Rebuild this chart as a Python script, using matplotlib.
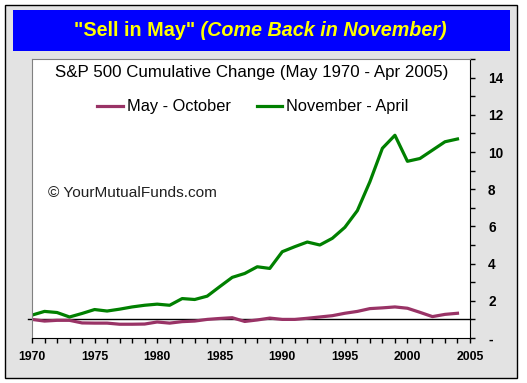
import matplotlib
matplotlib.use("Agg")
import matplotlib.pyplot as plt
from matplotlib.patches import Rectangle
from matplotlib.ticker import MultipleLocator, FuncFormatter

years = list(range(1970, 2005))
may_oct = [1.00, 0.91, 0.95, 0.95, 0.81, 0.80, 0.80, 0.74, 0.74, 0.75,
           0.86, 0.80, 0.88, 0.91, 1.00, 1.05, 1.09, 0.89, 0.97, 1.07,
           1.00, 1.00, 1.06, 1.13, 1.20, 1.33, 1.43, 1.58, 1.62, 1.67,
           1.60, 1.38, 1.15, 1.27, 1.33]
nov_apr = [1.23, 1.43, 1.37, 1.13, 1.32, 1.53, 1.45, 1.55, 1.67, 1.76,
           1.82, 1.76, 2.12, 2.07, 2.25, 2.76, 3.26, 3.47, 3.83, 3.74,
           4.64, 4.91, 5.16, 5.00, 5.36, 5.95, 6.85, 8.40, 10.20, 10.90,
           9.50, 9.65, 10.10, 10.55, 10.70]
series_names = ["May - October", "November - April"]
title_a = '"Sell in May"'
title_b = ' (Come Back in November)'
subtitle = "S&P 500 Cumulative Change (May 1970 - Apr 2005)"
watermark = "\u00a9 YourMutualFunds.com"

plt.rcParams['font.family'] = ['Liberation Sans', 'DejaVu Sans']

W, H = 527, 383
fig = plt.figure(figsize=(W / 100, H / 100), dpi=100)
fig.patch.set_facecolor('white')

def px(x, y, w, h):
    return (x / W, 1 - (y + h) / H, w / W, h / H)

bx = px(5, 5, 512, 373)
fig.patches.append(Rectangle((bx[0], bx[1]), bx[2], bx[3], transform=fig.transFigure,
                             facecolor='#E3E3E3', edgecolor='black', linewidth=1.0, zorder=-10))
bb = px(13, 10, 497, 41)
fig.patches.append(Rectangle((bb[0], bb[1]), bb[2], bb[3], transform=fig.transFigure,
                             facecolor='#0000FF', edgecolor='none', zorder=-9))

ta = fig.text(0, 0, title_a, fontsize=14.2, fontweight='bold', color='#FFFF00')
fig.canvas.draw()
r = fig.canvas.get_renderer()
tb = fig.text(0, 0, title_b, fontsize=14.2, fontweight='bold', fontstyle='italic', color='#FFFF00')
wa = ta.get_window_extent(r).width
wb = tb.get_window_extent(r).width
x0 = (260 - (wa + wb) / 2)
ya = 1 - 31 / H
ta.set_position((x0 / W, ya)); ta.set_va('center')
tb.set_position(((x0 + wa) / W, ya)); tb.set_va('center')

AXW, AXH = 470 - 32, 338 - 59
ax = fig.add_axes([32 / W, 1 - 338 / H, AXW / W, AXH / H])
ax.set_facecolor('white')
ax.plot(years, may_oct, color='#993366', linewidth=2.3, label=series_names[0])
ax.plot(years, nov_apr, color='#008000', linewidth=2.3, label=series_names[1])
ax.axhline(1, color='black', linewidth=1.0, xmin=-0.01, clip_on=False, zorder=1)

ax.set_xlim(1970, 2005)
ax.set_ylim(0, 15)
ax.yaxis.tick_right()
ax.yaxis.set_label_position('right')
ax.set_yticks([0, 2, 4, 6, 8, 10, 12, 14])
ax.yaxis.set_minor_locator(MultipleLocator(1))
ax.yaxis.set_major_formatter(FuncFormatter(lambda v, p: '-' if v == 0 else f'{int(v)}'))
ax.xaxis.set_major_locator(MultipleLocator(5))
ax.xaxis.set_minor_locator(MultipleLocator(1))
ax.tick_params(axis='both', which='both', direction='out', length=3.5, width=1, color='black')
ax.tick_params(axis='y', which='major', pad=9.5)
ax.tick_params(axis='x', which='major', pad=6)
for lab in ax.get_xticklabels():
    lab.set_fontweight('bold')
    lab.set_fontsize(8.8)
for lab in ax.get_yticklabels():
    lab.set_fontweight('bold')
    lab.set_fontsize(9.8)
ax.spines['left'].set_color('#808080')
ax.spines['top'].set_color('#808080')
ax.spines['right'].set_color('black')
ax.spines['bottom'].set_color('black')

ax.text((252 - 32) / AXW, 1 - (73 - 59) / AXH, subtitle, transform=ax.transAxes,
        ha='center', va='center', fontsize=12.2)
leg = ax.legend(loc='center', bbox_to_anchor=((253 - 32) / AXW, 1 - (107 - 59) / AXH), ncol=2,
                frameon=False, fontsize=11.8, handlelength=1.55, handletextpad=0.25,
                columnspacing=1.6, borderpad=0, borderaxespad=0)
ax.text((48 - 32) / AXW, 1 - (193 - 59) / AXH, watermark, transform=ax.transAxes, ha='left',
        va='center', fontsize=11.1, color='#202020')

fig.savefig('out.png', dpi=100, facecolor=fig.get_facecolor())
